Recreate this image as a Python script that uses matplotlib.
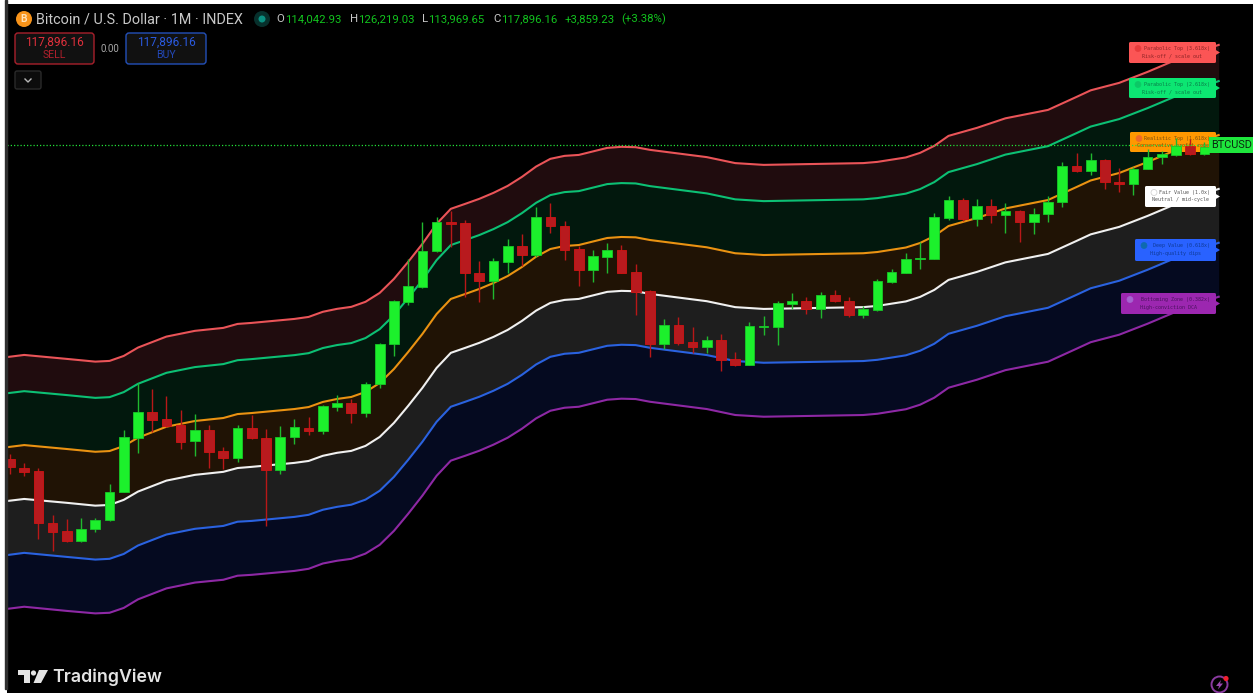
import math
import numpy as np
import matplotlib
matplotlib.use('Agg')
import matplotlib.pyplot as plt
import matplotlib.transforms as mtrans
from matplotlib.patches import FancyBboxPatch, Circle, Polygon, Rectangle

# monthly candles, thousands of USD, first one is Sep 2018
opens = [7.12, 6.61, 6.42, 4.02, 3.75, 3.43, 3.81, 4.13, 5.34, 8.59, 10.86, 10.18, 9.68, 8.39, 9.23, 7.65,
         7.18, 9.44, 8.64, 6.48, 8.68, 9.45, 9.18, 11.40, 11.75, 10.77, 13.91, 19.9, 29.1, 33.27, 45.6, 59.45,
         58.6, 37.6, 35.1, 41.6, 47.7, 44.15, 61.8, 57.3, 46.5, 38.62, 43.3, 46.17, 37.95, 31.9, 20.0, 23.6,
         20.3, 19.47, 20.67, 17.45, 16.58, 23.15, 23.2, 28.6, 29.3, 27.3, 30.85, 29.3, 25.9, 27.1, 34.7, 37.7,
         42.6, 42.6, 61.5, 72.15, 60.9, 68.2, 63.1, 65.4, 59.1, 63.7, 70.7, 97.75, 93.7, 103.12, 84.95, 83.2,
         95.4, 105.6, 108.1, 117.1, 108.8, 114.04]
highs = [7.47, 6.89, 6.61, 4.33, 4.17, 4.23, 4.20, 5.71, 9.26, 14.04, 13.30, 12.54, 11.06, 10.67, 9.68, 7.93,
         9.68, 10.58, 9.34, 9.62, 10.18, 10.39, 11.56, 12.65, 12.17, 14.17, 20.07, 29.55, 42.5, 59.1, 62.16, 65.57,
         60.35, 41.85, 42.85, 50.8, 53.4, 67.6, 70.05, 59.8, 48.0, 46.17, 49.0, 48.2, 40.6, 32.3, 24.9, 25.45,
         23.15, 21.4, 21.74, 18.53, 24.27, 25.5, 29.3, 31.5, 30.27, 31.75, 32.3, 30.4, 27.9, 35.6, 38.85, 45.06,
         49.5, 64.4, 74.77, 73.2, 72.6, 72.6, 70.4, 65.99, 66.95, 74.9, 101.0, 109.5, 110.0, 103.7, 96.3, 96.6,
         113.4, 112.0, 125.2, 124.06, 121.0, 126.22]
lows = [6.25, 6.14, 3.50, 3.15, 3.39, 3.39, 3.73, 4.10, 5.30, 7.55, 9.12, 9.47, 7.81, 7.36, 6.61, 6.52,
        6.97, 8.54, 3.93, 6.25, 8.19, 8.88, 8.93, 10.97, 9.85, 10.39, 13.46, 17.92, 28.26, 32.78, 45.5, 47.55,
        30.27, 29.1, 29.72, 37.7, 40.0, 43.5, 53.9, 42.3, 33.5, 34.8, 37.7, 37.6, 25.8, 17.8, 19.03, 19.7,
        18.46, 18.46, 15.67, 16.42, 16.5, 21.67, 19.7, 27.3, 26.1, 25.16, 29.0, 25.45, 25.16, 26.8, 34.5, 37.6,
        39.1, 42.5, 60.2, 59.9, 57.2, 58.9, 53.9, 49.7, 53.1, 59.45, 68.0, 92.6, 90.2, 79.4, 77.6, 75.4,
        95.2, 99.5, 106.9, 108.3, 107.8, 113.97]
closes = [6.64, 6.38, 4.02, 3.73, 3.44, 3.83, 4.15, 5.34, 8.68, 10.86, 10.12, 9.59, 8.33, 9.23, 7.62, 7.18,
          9.44, 8.59, 6.48, 8.72, 9.53, 9.14, 11.49, 11.75, 10.77, 13.95, 19.95, 29.29, 33.56, 45.76, 59.27, 58.06,
          37.5, 35.1, 41.85, 47.7, 44.15, 61.8, 57.3, 46.17, 38.62, 43.6, 46.17, 37.7, 31.8, 19.95, 23.6, 20.13,
          19.47, 20.67, 17.3, 16.58, 23.35, 23.4, 28.77, 29.3, 27.3, 30.85, 29.35, 25.9, 27.27, 35.0, 37.95, 42.5,
          43.1, 61.8, 72.15, 60.9, 68.2, 63.1, 65.4, 59.1, 63.8, 71.06, 97.45, 93.7, 103.12, 84.5, 83.2, 95.2,
          105.6, 108.5, 116.8, 109.0, 116.0, 117.896]

# band lines, read at these candle numbers
band_idx = [-1, 1, 4, 6, 7, 8, 9, 11, 13, 15, 16, 17, 20, 21, 22, 23, 24, 25, 26, 27, 28, 29, 30, 31, 32, 33, 34, 35,
            36, 37, 38, 39, 40, 42, 43, 44, 45, 49, 51, 53, 60, 61, 63, 64, 65, 66, 68, 70, 73, 75, 76, 78, 80, 82, 85]
top_3618 = [17.53, 18.09, 17.46, 17.04, 17.15, 17.93, 19.32, 21.31, 22.43, 23.03, 23.86, 24.08, 24.95, 25.40,
            26.59, 27.30, 27.79, 29.07, 31.48, 35.66, 41.52, 48.77, 58.29, 66.68, 69.67, 72.89, 76.90, 81.84,
            88.68, 97.27, 104.2, 107.0, 107.9, 114.9, 116.0, 115.6, 112.9, 105.8, 100.3, 98.72, 100.3, 101.4,
            105.5, 109.9, 117.0, 127.9, 137.4, 149.6, 161.3, 181.1, 192.1, 205.3, 226.5, 252.1, 288.2]
top_2618 = [12.69, 13.09, 12.64, 12.33, 12.41, 12.98, 13.98, 15.42, 16.23, 16.67, 17.26, 17.43, 18.06, 18.38,
            19.24, 19.76, 20.11, 21.03, 22.78, 25.81, 30.05, 35.29, 42.18, 48.25, 50.42, 52.75, 55.64, 59.22,
            64.17, 70.38, 75.37, 77.42, 78.10, 83.17, 83.91, 83.65, 81.68, 76.53, 72.57, 71.43, 72.57, 73.38,
            76.37, 79.52, 84.65, 92.55, 99.41, 108.2, 116.7, 131.1, 139.0, 148.6, 163.9, 182.4, 208.6]
top_1618 = [7.84, 8.09, 7.81, 7.62, 7.67, 8.02, 8.64, 9.53, 10.03, 10.30, 10.67, 10.77, 11.16, 11.36,
            11.89, 12.21, 12.43, 13.0, 14.08, 15.95, 18.57, 21.81, 26.07, 29.82, 31.16, 32.6, 34.39, 36.6,
            39.66, 43.5, 46.58, 47.85, 48.27, 51.4, 51.86, 51.7, 50.48, 47.3, 44.85, 44.15, 44.85, 45.35,
            47.2, 49.15, 52.32, 57.2, 61.44, 66.9, 72.15, 81.0, 85.9, 91.82, 101.3, 112.75, 128.9]
fair_value = [4.85, 5.00, 4.83, 4.71, 4.74, 4.96, 5.34, 5.89, 6.20, 6.37, 6.59, 6.66, 6.90, 7.02,
              7.35, 7.55, 7.68, 8.03, 8.70, 9.86, 11.48, 13.48, 16.11, 18.43, 19.26, 20.15, 21.25, 22.62,
              24.51, 26.88, 28.79, 29.57, 29.83, 31.77, 32.05, 31.95, 31.20, 29.23, 27.72, 27.28, 27.72, 28.03,
              29.17, 30.37, 32.33, 35.35, 37.97, 41.34, 44.59, 50.06, 53.09, 56.74, 62.60, 69.68, 79.66]
deep_value = [2.99, 3.09, 2.98, 2.91, 2.93, 3.06, 3.30, 3.64, 3.83, 3.93, 4.08, 4.11, 4.26, 4.34,
              4.54, 4.66, 4.75, 4.97, 5.38, 6.09, 7.09, 8.33, 9.96, 11.39, 11.90, 12.45, 13.14, 13.98,
              15.15, 16.62, 17.79, 18.28, 18.44, 19.63, 19.81, 19.75, 19.28, 18.07, 17.13, 16.87, 17.13, 17.32,
              18.03, 18.78, 19.99, 21.85, 23.47, 25.56, 27.56, 30.94, 32.81, 35.08, 38.70, 43.07, 49.24]
bottom_zone = [1.85, 1.91, 1.84, 1.80, 1.81, 1.89, 2.04, 2.25, 2.37, 2.43, 2.52, 2.54, 2.63, 2.68,
               2.81, 2.88, 2.93, 3.07, 3.32, 3.76, 4.38, 5.15, 6.15, 7.04, 7.35, 7.69, 8.12, 8.64,
               9.36, 10.27, 10.99, 11.29, 11.39, 12.13, 12.24, 12.20, 11.91, 11.16, 10.58, 10.42, 10.58, 10.70,
               11.14, 11.60, 12.35, 13.50, 14.50, 15.79, 17.03, 19.12, 20.27, 21.67, 23.91, 26.61, 30.42]

bands = [top_3618, top_2618, top_1618, fair_value, deep_value, bottom_zone]
band_colors = ['#ea5458', '#0cc074', '#ea9212', '#f0f0f0', '#2a62e0', '#8e28a4']
fill_colors = ['#200c0e', '#02180d', '#201305', '#1e1e1e', '#050a20']

W, H = 1253, 693
LEFT, TOP = 7, 4
CANDLE_X0, CANDLE_STEP = 10.0, 14.22
PX_PER_E = 112.0   # log scale, pixels per e-fold of price
LAST_Y = 145.0

plt.rcParams['font.family'] = ['Roboto', 'DejaVu Sans']

fig = plt.figure(figsize=(W / 100, H / 100), dpi=100, facecolor='white')
ax = fig.add_axes([LEFT / W, 0, (W - LEFT) / W, (H - TOP) / H], facecolor='black')
ax.set_yscale('log')
ax.set_xlim((LEFT - CANDLE_X0) / CANDLE_STEP, (W - CANDLE_X0) / CANDLE_STEP)
ax.set_ylim(closes[-1] * math.exp(-(H - LAST_Y) / PX_PER_E), closes[-1] * math.exp((LAST_Y - TOP) / PX_PER_E))
ax.axis('off')
ax.add_patch(Rectangle((0, 0), 1, 1, transform=ax.transAxes, color='black', zorder=0))

# pixel coordinates for the screen furniture, y going down
px = mtrans.Affine2D().scale(1, -1).translate(0, H)

fig.add_artist(Rectangle((5, 0), 2, H - TOP, transform=px, color='#2f2f2f'))

# bands
for i in range(5):
    ax.fill_between(band_idx, bands[i], bands[i + 1], color=fill_colors[i], lw=0, zorder=1)
for vals, col in zip(bands, band_colors):
    ax.plot(band_idx, vals, color=col, lw=1.5, zorder=2, solid_joinstyle='round')


# labels sit on top of the lines but under the candles
def tag(x0, y0, y1, face, dot, txt_col, line1, line2, hollow=False):
    xr = 1216
    ax.add_patch(FancyBboxPatch((x0 + 1, y0 + 1), xr - x0 - 2, y1 - y0 - 2, boxstyle='round,pad=1,rounding_size=1.5',
                                transform=px, fc=face, ec=face, lw=0, zorder=3))
    ym = (y0 + y1) / 2
    ax.add_patch(Polygon([(xr - 1, ym - 3), (1220, ym), (xr - 1, ym + 3)], transform=px, fc=face, ec=face, lw=0, zorder=3))
    ax.add_patch(Circle((x0 + 9, y0 + 6.5), 3, transform=px, fc=dot, ec='#cccccc' if hollow else dot,
                        lw=0.5, zorder=3.1))
    ax.text(1210, y0 + 6.5, line1, transform=px, ha='right', va='center', fontsize=3.6,
            family='DejaVu Sans Mono', color=txt_col, zorder=3.2)
    ax.text((x0 + xr) / 2, y0 + 14, line2, transform=px, ha='center', va='center', fontsize=3.6,
            family='DejaVu Sans Mono', color=txt_col, zorder=3.2)


tag(1129, 42, 63, '#fb5555', '#e83c3c', '#8c2426', 'Parabolic Top (3.618x)', 'Risk-off / scale out')
tag(1129, 78, 98, '#0ce672', '#0cc866', '#0a7a48', 'Parabolic Top (2.618x)', 'Risk-off / scale out')
tag(1130, 132, 152, '#ff9800', '#f06a28', '#7a5010', 'Realistic Top (1.618x)', 'Conservative profit zone')
tag(1145, 186, 207, '#ffffff', '#ffffff', '#555555', 'Fair Value (1.0x)', 'Neutral / mid-cycle', hollow=True)
tag(1135, 239, 261, '#2962ff', '#0e6ab0', '#0f3a96', 'Deep Value (0.618x)', 'High-quality dips')
tag(1121, 293, 314, '#9c27b0', '#a564d0', '#4c1260', 'Bottoming Zone (0.382x)', 'High-conviction DCA')

# candles
o = np.array(opens)
h = np.array(highs)
l = np.array(lows)
c = np.array(closes)
xs = np.arange(len(o))
up = c >= o
ax.vlines(xs[up], l[up], h[up], color='#20b82e', lw=1.0, zorder=4)
ax.vlines(xs[~up], l[~up], h[~up], color='#b81818', lw=1.0, zorder=4)
ax.bar(xs[up], c[up] - o[up], bottom=o[up], width=0.68, color='#1cf02c', edgecolor='#18c828', lw=0.6, zorder=4.1)
ax.bar(xs[~up], o[~up] - c[~up], bottom=c[~up], width=0.68, color='#b81a1e', edgecolor='#d01414', lw=0.6, zorder=4.1)

# last price line and tag
ax.plot([(LEFT - CANDLE_X0) / CANDLE_STEP, (1209 - CANDLE_X0) / CANDLE_STEP], [closes[-1], closes[-1]],
        color='#22e038', lw=0.9, ls=(0, (1, 1.6)), zorder=5)
ax.add_patch(Rectangle((1209, 137), 44, 16, transform=px, fc='#1ee63c', ec='none', zorder=6, clip_on=False))
ax.text(1231.5, 145.5, 'BTCUSD', transform=px, ha='center', va='center', fontsize=7.8, color='#0a2a10', zorder=6.1)

# header
ax.add_patch(Circle((24, 19), 8, transform=px, fc='#f7931a', ec='none', zorder=7))
ax.text(24, 19, 'B', transform=px, ha='center', va='center', fontsize=7.5, weight='bold', color='#ffe2b8', zorder=7.1)
ax.text(36, 19.5, 'Bitcoin / U.S. Dollar \u00b7 1M \u00b7 INDEX', transform=px, ha='left', va='center',
        fontsize=10.4, color='#c8c8c8', zorder=7)
ax.add_patch(Circle((262, 19), 8, transform=px, fc='#07302c', ec='none', zorder=7))
ax.add_patch(Circle((262, 19), 3.5, transform=px, fc='#0a9081', ec='none', zorder=7.1))
for x0, x1, letter, val in [(276, 285, 'O', '114,042.93'), (350, 358, 'H', '126,219.03'),
                            (422, 428, 'L', '113,969.65'), (493, 501, 'C', '117,896.16')]:
    ax.text(x0, 19.5, letter, transform=px, ha='left', va='center', fontsize=8.2, color='#c8c8c8', zorder=7)
    ax.text(x1, 19.5, val, transform=px, ha='left', va='center', fontsize=8.2, color='#12c21e', zorder=7)
ax.text(565, 19.5, '+3,859.23', transform=px, ha='left', va='center', fontsize=8.2, color='#12c21e', zorder=7)
ax.text(621, 19.5, '(+3.38%)', transform=px, ha='left', va='center', fontsize=8.2, color='#12c21e', zorder=7)

for x0, x1, edge, col1, col2, side in [(15, 94, '#a8202c', '#e0303c', '#b0202c', 'SELL'),
                                       (126, 206, '#2350b8', '#2a5ae0', '#2348b8', 'BUY')]:
    ax.add_patch(FancyBboxPatch((x0 + 3, 36), x1 - x0 - 6, 25, boxstyle='round,pad=3,rounding_size=3', transform=px,
                                fc='#111111', ec=edge, lw=1, zorder=7, clip_on=False))
    ax.text((x0 + x1) / 2, 42.5, '117,896.16', transform=px, ha='center', va='center', fontsize=8.6, color=col1, zorder=7.1)
    ax.text((x0 + x1) / 2, 55.5, side, transform=px, ha='center', va='center', fontsize=7.6, color=col2, zorder=7.1)
ax.text(110, 48.5, '0.00', transform=px, ha='center', va='center', fontsize=7, color='#a8a8a8', zorder=7)
ax.add_patch(FancyBboxPatch((17, 73), 22, 14, boxstyle='round,pad=2,rounding_size=2', transform=px,
                            fc='#0c0c0c', ec='#2a2a2a', lw=1, zorder=7))
ax.plot([25, 28, 31], [79, 82, 79], transform=px, color='#b8b8b8', lw=1, zorder=7.1)

# logo
logo = '#e4e4e4'
ax.add_patch(Rectangle((18, 670), 12, 5, transform=px, fc=logo, ec='none', zorder=7))
ax.add_patch(Rectangle((24, 675), 6, 8, transform=px, fc=logo, ec='none', zorder=7))
ax.add_patch(Circle((33.5, 673), 2.6, transform=px, fc=logo, ec='none', zorder=7))
ax.add_patch(Polygon([(39, 670), (48, 670), (41, 683), (33.5, 683)], transform=px, fc=logo, ec='none', zorder=7))
ax.text(52, 677.5, 'TradingView', transform=px, ha='left', va='center', fontsize=12.8, family='Inter',
        weight='semibold', color=logo, zorder=7)

# bolt button
ax.add_patch(Circle((1219.5, 684.5), 8, transform=px, fc='black', ec='#8a3aa0', lw=1.4, zorder=7))
ax.add_patch(Polygon([(1221, 680), (1216, 686), (1219, 686), (1218, 689.5), (1223, 683.5), (1220, 683.5)],
                     transform=px, fc='#9a48b0', ec='none', zorder=7.1))
ax.add_patch(Circle((1226, 678.5), 2.6, transform=px, fc='#f02030', ec='none', zorder=7.2))

fig.savefig('out.png', dpi=100, facecolor=fig.get_facecolor())
